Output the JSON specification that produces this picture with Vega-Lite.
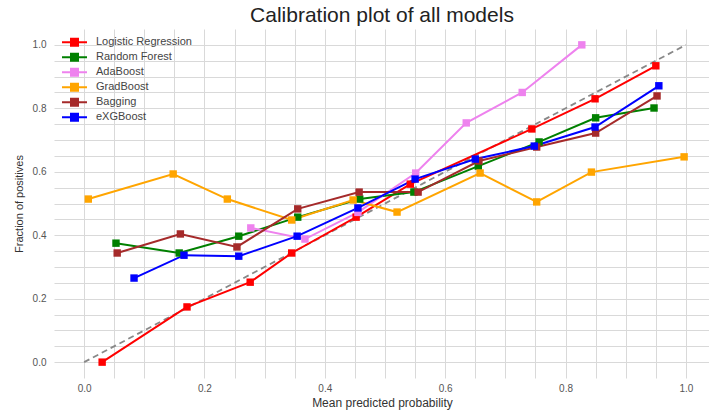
{
  "$schema": "https://vega.github.io/schema/vega-lite/v6.json",
  "width": 656,
  "height": 349,
  "autosize": {"type": "none"},
  "padding": {"left": 54, "top": 29, "right": 0, "bottom": 35},
  "background": "white",
  "title": {"text": "Calibration plot of all models", "fontSize": 21, "font": "Liberation Sans", "fontWeight": "normal", "color": "#222", "anchor": "middle", "offset": 3},
  "config": {
    "view": {"stroke": null},
    "font": "Liberation Sans",
    "axis": {"gridColor": "#d9d9d9", "gridWidth": 1, "domain": false, "ticks": false, "labelColor": "#555", "labelFontSize": 10, "titleColor": "#333", "titleFontWeight": "normal"}
  },
  "datasets": {
    "diag": [{"x": 0, "y": 0}, {"x": 1, "y": 1}],
    "cal": [
      {"model": "\u2002 Logistic Regression", "x": 0.03, "y": 0.0},
      {"model": "\u2002 Logistic Regression", "x": 0.171, "y": 0.174},
      {"model": "\u2002 Logistic Regression", "x": 0.276, "y": 0.252},
      {"model": "\u2002 Logistic Regression", "x": 0.345, "y": 0.344},
      {"model": "\u2002 Logistic Regression", "x": 0.452, "y": 0.457},
      {"model": "\u2002 Logistic Regression", "x": 0.542, "y": 0.561},
      {"model": "\u2002 Logistic Regression", "x": 0.744, "y": 0.735},
      {"model": "\u2002 Logistic Regression", "x": 0.849, "y": 0.83},
      {"model": "\u2002 Logistic Regression", "x": 0.95, "y": 0.934},
      {"model": "Random Forest", "x": 0.053, "y": 0.375},
      {"model": "Random Forest", "x": 0.158, "y": 0.344},
      {"model": "Random Forest", "x": 0.257, "y": 0.397},
      {"model": "Random Forest", "x": 0.355, "y": 0.457},
      {"model": "Random Forest", "x": 0.458, "y": 0.514},
      {"model": "Random Forest", "x": 0.548, "y": 0.536},
      {"model": "Random Forest", "x": 0.655, "y": 0.618},
      {"model": "Random Forest", "x": 0.756, "y": 0.694},
      {"model": "Random Forest", "x": 0.85, "y": 0.77},
      {"model": "Random Forest", "x": 0.947, "y": 0.801},
      {"model": "AdaBoost", "x": 0.277, "y": 0.423},
      {"model": "AdaBoost", "x": 0.367, "y": 0.388},
      {"model": "AdaBoost", "x": 0.455, "y": 0.472},
      {"model": "AdaBoost", "x": 0.551, "y": 0.596},
      {"model": "AdaBoost", "x": 0.635, "y": 0.754},
      {"model": "AdaBoost", "x": 0.728, "y": 0.85},
      {"model": "AdaBoost", "x": 0.827, "y": 1.0},
      {"model": "GradBoost", "x": 0.007, "y": 0.514},
      {"model": "GradBoost", "x": 0.148, "y": 0.593},
      {"model": "GradBoost", "x": 0.238, "y": 0.514},
      {"model": "GradBoost", "x": 0.345, "y": 0.448},
      {"model": "GradBoost", "x": 0.447, "y": 0.511},
      {"model": "GradBoost", "x": 0.52, "y": 0.473},
      {"model": "GradBoost", "x": 0.658, "y": 0.596},
      {"model": "GradBoost", "x": 0.752, "y": 0.505},
      {"model": "GradBoost", "x": 0.843, "y": 0.599},
      {"model": "GradBoost", "x": 0.997, "y": 0.647},
      {"model": "Bagging", "x": 0.055, "y": 0.344},
      {"model": "Bagging", "x": 0.16, "y": 0.404},
      {"model": "Bagging", "x": 0.254, "y": 0.363},
      {"model": "Bagging", "x": 0.355, "y": 0.483},
      {"model": "Bagging", "x": 0.457, "y": 0.536},
      {"model": "Bagging", "x": 0.555, "y": 0.536},
      {"model": "Bagging", "x": 0.656, "y": 0.634},
      {"model": "Bagging", "x": 0.752, "y": 0.678},
      {"model": "Bagging", "x": 0.85, "y": 0.722},
      {"model": "Bagging", "x": 0.952, "y": 0.839},
      {"model": "eXGBoost", "x": 0.083, "y": 0.265},
      {"model": "eXGBoost", "x": 0.166, "y": 0.337},
      {"model": "eXGBoost", "x": 0.257, "y": 0.334},
      {"model": "eXGBoost", "x": 0.354, "y": 0.397},
      {"model": "eXGBoost", "x": 0.455, "y": 0.486},
      {"model": "eXGBoost", "x": 0.55, "y": 0.577},
      {"model": "eXGBoost", "x": 0.65, "y": 0.64},
      {"model": "eXGBoost", "x": 0.748, "y": 0.681},
      {"model": "eXGBoost", "x": 0.849, "y": 0.741},
      {"model": "eXGBoost", "x": 0.955, "y": 0.871}
    ]
  },
  "encoding": {
    "x": {"field": "x", "type": "quantitative", "scale": {"domain": [-0.05, 1.04], "nice": false, "zero": false},
      "axis": {"values": [0, 0.05, 0.1, 0.15, 0.2, 0.25, 0.3, 0.35, 0.4, 0.45, 0.5, 0.55, 0.6, 0.65, 0.7, 0.75, 0.8, 0.85, 0.9, 0.95, 1.0],
        "labelExpr": "abs(datum.value*5 - round(datum.value*5)) < 0.001 ? format(datum.value, '.1f') : ''",
        "labelPadding": 5, "title": "Mean predicted probability", "titleFontSize": 12, "titlePadding": 4}},
    "y": {"field": "y", "type": "quantitative", "scale": {"domain": [-0.05, 1.05], "nice": false, "zero": false},
      "axis": {"values": [0, 0.05, 0.1, 0.15, 0.2, 0.25, 0.3, 0.35, 0.4, 0.45, 0.5, 0.55, 0.6, 0.65, 0.7, 0.75, 0.8, 0.85, 0.9, 0.95, 1.0],
        "labelExpr": "abs(datum.value*5 - round(datum.value*5)) < 0.001 ? format(datum.value, '.1f') : ''",
        "labelPadding": 8, "title": "Fraction of positives", "titleFontSize": 11, "titlePadding": 8}}
  },
  "layer": [
    {
      "data": {"name": "diag"},
      "mark": {"type": "line", "color": "#888888", "strokeDash": [6, 4], "strokeWidth": 1.8},
      "encoding": {}
    },
    {
      "data": {"name": "cal"},
      "mark": {"type": "line", "strokeWidth": 2},
      "encoding": {
        "color": {"field": "model", "type": "nominal",
          "scale": {"domain": ["\u2002 Logistic Regression", "Random Forest", "AdaBoost", "GradBoost", "Bagging", "eXGBoost"], "range": ["#ff0000", "#008000", "#ee82ee", "#ffa500", "#a52a2a", "#0000ff"]},
          "legend": {"title": null, "orient": "none", "legendX": 8, "legendY": 6, "padding": 0,
            "symbolType": "M-1,-0.08L1,-0.08L1,0.08L-1,0.08Z M-0.36,-0.36L0.36,-0.36L0.36,0.36L-0.36,0.36Z",
            "symbolSize": 625, "symbolStrokeWidth": 0, "clipHeight": 14.6, "rowPadding": 0,
            "labelFontSize": 11, "labelColor": "#444", "labelOffset": 9,
            "symbolOpacity": 1,
            "encode": {
              "symbols": {"update": {"fill": {"scale": "color", "field": "value"}, "fillOpacity": {"value": 1}, "strokeWidth": {"value": 0}}}}}}
      }
    },
    {
      "data": {"name": "cal"},
      "mark": {"type": "point", "shape": "square", "filled": true, "opacity": 1, "size": 55},
      "encoding": {
        "color": {"field": "model", "type": "nominal",
          "scale": {"domain": ["\u2002 Logistic Regression", "Random Forest", "AdaBoost", "GradBoost", "Bagging", "eXGBoost"], "range": ["#ff0000", "#008000", "#ee82ee", "#ffa500", "#a52a2a", "#0000ff"]},
          "legend": {"title": null, "orient": "none", "legendX": 8, "legendY": 6, "padding": 0,
            "symbolType": "M-1,-0.08L1,-0.08L1,0.08L-1,0.08Z M-0.36,-0.36L0.36,-0.36L0.36,0.36L-0.36,0.36Z",
            "symbolSize": 625, "symbolStrokeWidth": 0, "clipHeight": 14.6, "rowPadding": 0,
            "labelFontSize": 11, "labelColor": "#444", "labelOffset": 9,
            "symbolOpacity": 1,
            "encode": {
              "symbols": {"update": {"fill": {"scale": "color", "field": "value"}, "fillOpacity": {"value": 1}, "strokeWidth": {"value": 0}}}}}}
      }
    }
  ]
}
